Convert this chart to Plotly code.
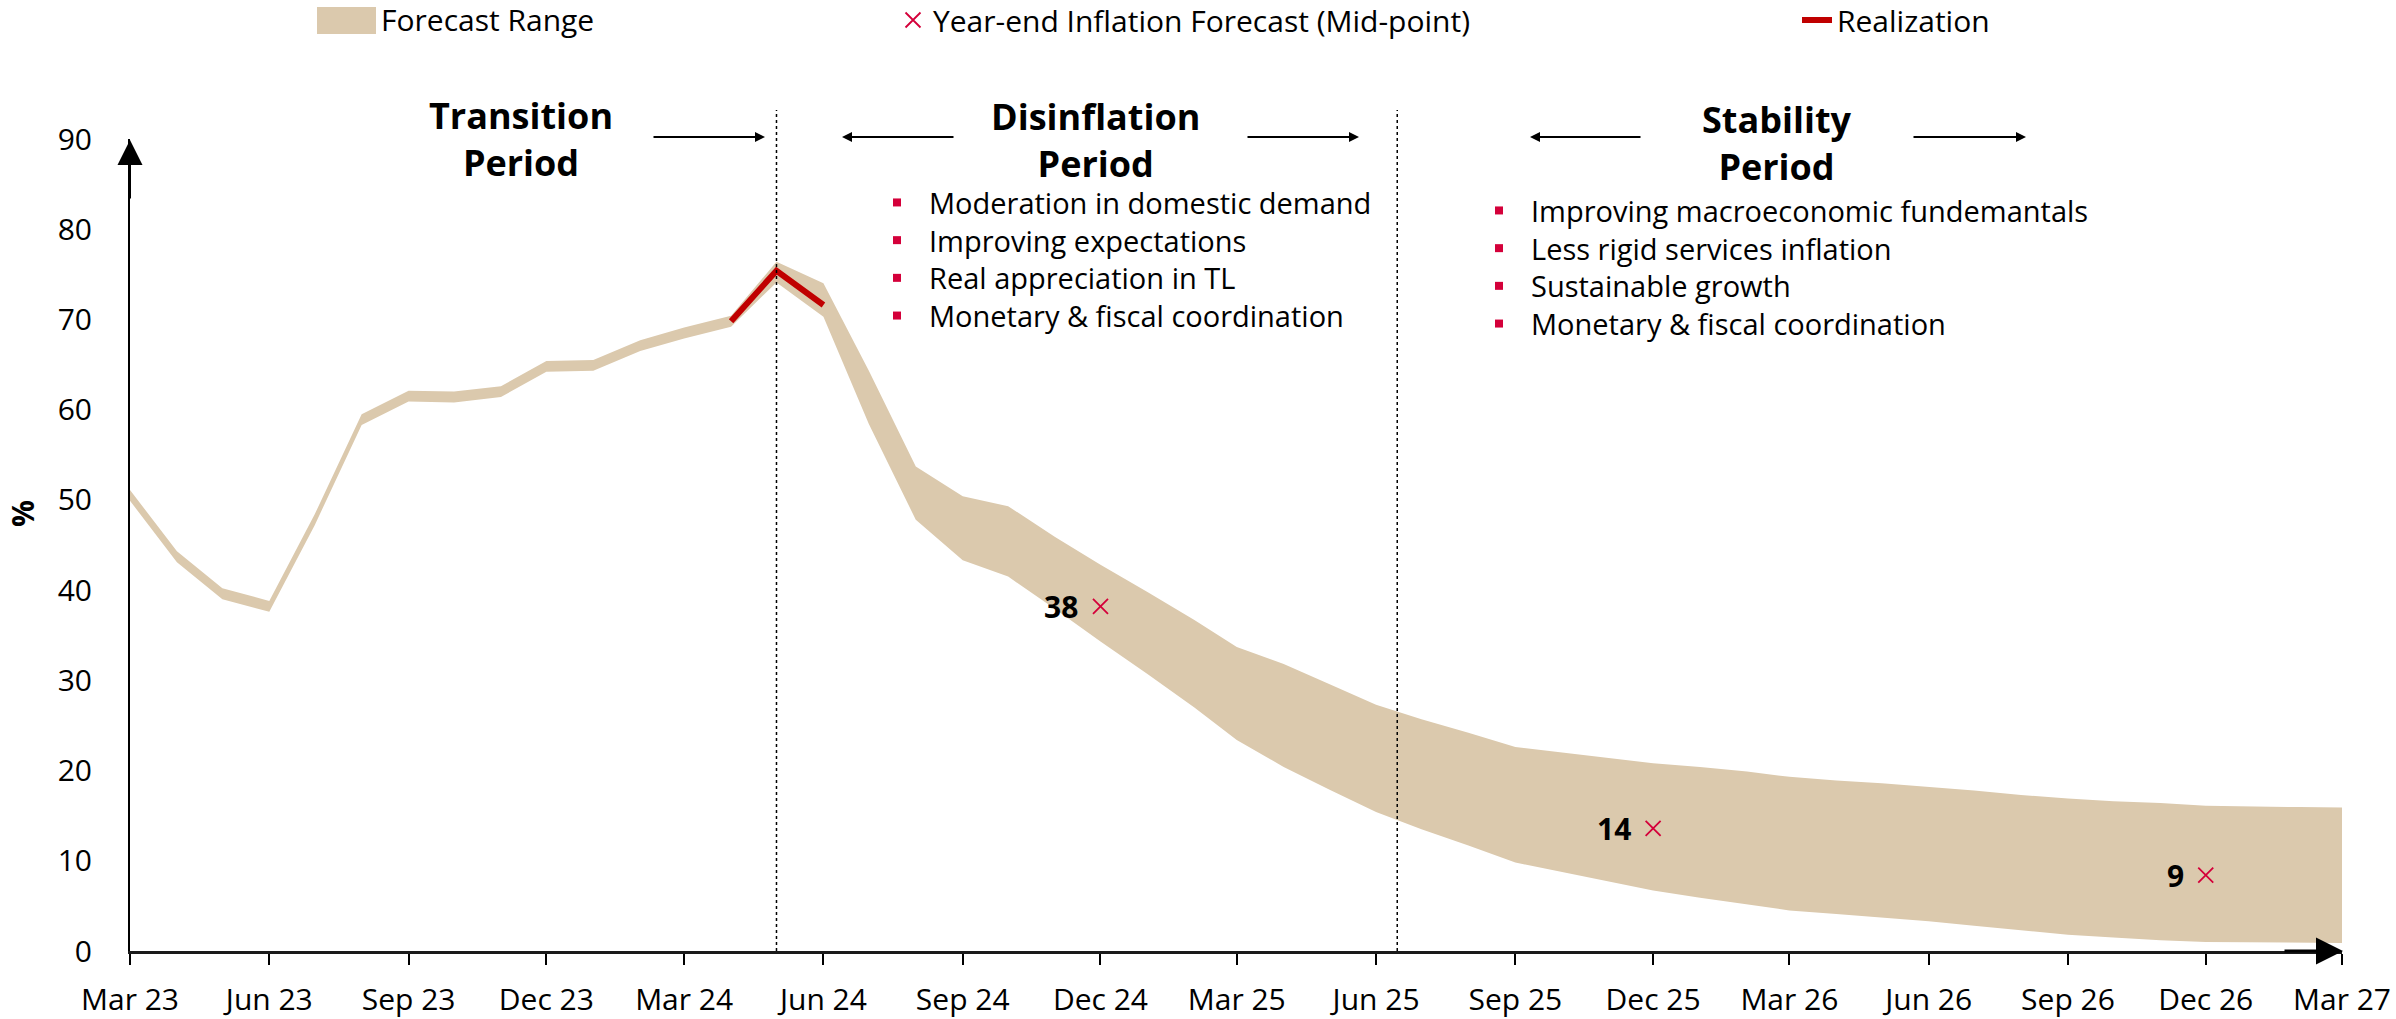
import pandas as pd
import plotly.graph_objects as go

# ---------------- data ----------------
months = pd.date_range("2023-03-01", periods=49, freq="MS")

band_lower = [49.9, 43.1, 39.0, 37.6, 47.2, 58.3, 60.9, 60.8, 61.4, 64.2, 64.3, 66.5, 67.9, 69.2,
              74.1, 70.3, 58.4, 47.8, 43.3, 41.5, 37.9, 34.3, 30.7, 27.0, 23.4, 20.4, 17.9, 15.4,
              13.5, 11.7, 9.8, 8.8, 7.7, 6.7, 5.9, 5.2, 4.5, 4.1, 3.7, 3.3, 2.8, 2.3, 1.8, 1.5,
              1.2, 1.0, 0.95, 0.9, 0.9]
band_upper = [51.1, 44.3, 40.2, 38.8, 48.4, 59.5, 62.1, 62.0, 62.6, 65.4, 65.5, 67.7, 69.1, 70.4,
              76.4, 74.0, 64.3, 53.7, 50.4, 49.3, 45.9, 42.8, 39.8, 36.7, 33.7, 31.8, 29.6, 27.3,
              25.7, 24.2, 22.6, 22.0, 21.4, 20.8, 20.4, 19.9, 19.3, 18.9, 18.6, 18.2, 17.8, 17.3,
              16.9, 16.6, 16.4, 16.1, 16.0, 15.95, 15.9]

real_dates = ["2024-04-01", "2024-05-01", "2024-06-01"]
real_values = [69.8, 75.4, 71.6]

mid_dates = ["2024-12-01", "2025-12-01", "2026-12-01"]
mid_values = [38.2, 13.6, 8.4]
mid_labels = ["38", "14", "9"]

tick_dates = months[::3]
tick_labels = ["Mar 23", "Jun 23", "Sep 23", "Dec 23", "Mar 24", "Jun 24", "Sep 24", "Dec 24",
               "Mar 25", "Jun 25", "Sep 25", "Dec 25", "Mar 26", "Jun 26", "Sep 26", "Dec 26",
               "Mar 27"]

period_bounds = ["2024-05-01", "2025-06-15"]

disinflation_items = ["Moderation in domestic demand", "Improving expectations",
                      "Real appreciation in TL", "Monetary & fiscal coordination"]
stability_items = ["Improving macroeconomic fundemantals", "Less rigid services inflation",
                   "Sustainable growth", "Monetary & fiscal coordination"]

# ---------------- style ----------------
W, H = 2396, 1019
L, R, T, B = 130, 54, 139, 68
PW, PH = W - L - R, H - T - B
FONT = "Open Sans"
TAN = "#DBC9AD"
RED = "#C00000"
CRIMSON = "#D4003A"
LEG_Y = 20


def px(X):
    return (X - L) / PW


def py(Y):
    return (H - B - Y) / PH


fig = go.Figure()

fig.add_trace(go.Scatter(x=months, y=band_lower, mode="lines", line=dict(width=0, color=TAN),
                         showlegend=False, hoverinfo="skip"))
fig.add_trace(go.Scatter(x=months, y=band_upper, mode="lines", line=dict(width=0, color=TAN),
                         fill="tonexty", fillcolor=TAN, name="Forecast Range", showlegend=False))
fig.add_trace(go.Scatter(x=mid_dates, y=mid_values, mode="markers",
                         marker=dict(symbol="x-thin", size=15, line=dict(width=1.8, color=CRIMSON),
                                     color=CRIMSON),
                         name="Year-end Inflation Forecast (Mid-point)", legend="legend2"))
fig.add_trace(go.Scatter(x=real_dates, y=real_values, mode="lines",
                         line=dict(width=6, color=RED), name="Realization", legend="legend3"))

annotations = []
shapes = []

# legend entry for the band (wide swatch as in the reference)
shapes.append(dict(type="rect", xref="paper", yref="paper", x0=px(317), x1=px(376),
                   y0=py(LEG_Y + 14), y1=py(LEG_Y - 13), fillcolor=TAN, line=dict(width=0)))
annotations.append(dict(x=px(379), y=py(LEG_Y), xref="paper", yref="paper", text="Forecast Range",
                        showarrow=False, xanchor="left", yanchor="middle",
                        font=dict(family=FONT, size=30, color="black")))

# value labels
for d, v, t in zip(mid_dates, mid_values, mid_labels):
    annotations.append(dict(x=d, y=v, xref="x", yref="y", text="<b>%s</b>" % t, showarrow=False,
                            xanchor="right", yanchor="middle", xshift=-20,
                            font=dict(family=FONT, size=30, color="black")))

# period titles
for cx, cy, txt in [(521, 139, "Transition<br>Period"),
                    (1095, 140, "Disinflation<br>Period"),
                    (1777, 143, "Stability<br>Period")]:
    annotations.append(dict(x=px(cx), y=py(cy), xref="paper", yref="paper",
                            text="<b>%s</b>" % txt, showarrow=False, xanchor="center",
                            yanchor="middle", align="center",
                            font=dict(family=FONT, size=36, color="black")))

# period arrows (tip, tail)
for tip, tail in [(765, 652), (842, 955), (1359, 1246), (1530, 1642), (2026, 1912)]:
    annotations.append(dict(x=px(tip), y=py(137), xref="paper", yref="paper", text="",
                            showarrow=True, ax=tail - tip, ay=0, arrowhead=2, arrowsize=1.0,
                            arrowwidth=2, arrowcolor="black"))

# axis arrows
annotations.append(dict(x=px(130), y=py(140), xref="paper", yref="paper", text="", showarrow=True,
                        ax=0, ay=60, arrowhead=2, arrowsize=2.5, arrowwidth=2, arrowcolor="black"))
annotations.append(dict(x=px(2343), y=py(951), xref="paper", yref="paper", text="", showarrow=True,
                        ax=-60, ay=0, arrowhead=2, arrowsize=1.8, arrowwidth=3, arrowcolor="black"))

# bullet lists
LS = 29 * 1.3
for bx, tx, cy, items in [(897, 927, 259, disinflation_items),
                          (1499, 1529, 267, stability_items)]:
    n = len(items)
    for i in range(n):
        ry = cy + (i - (n - 1) / 2) * LS
        shapes.append(dict(type="rect", xref="paper", yref="paper", xsizemode="pixel",
                           ysizemode="pixel", xanchor=px(bx), yanchor=py(ry), x0=-4, x1=4,
                           y0=-4, y1=4, fillcolor=CRIMSON, line=dict(width=0)))
    annotations.append(dict(x=px(tx), y=py(cy), xref="paper", yref="paper",
                            text="<br>".join(items), align="left",
                            showarrow=False, xanchor="left", yanchor="middle",
                            font=dict(family=FONT, size=29, color="black")))

# y-axis title
annotations.append(dict(x=px(22), y=py(514), xref="paper", yref="paper", text="<b>%</b>",
                        showarrow=False, textangle=-90, xanchor="center", yanchor="middle",
                        font=dict(family=FONT, size=30, color="black")))

# period boundaries
for d in period_bounds:
    shapes.append(dict(type="line", xref="x", yref="paper", x0=d, x1=d, y0=0, y1=py(110),
                       line=dict(color="black", width=1.5, dash="dot")))

legend_common = dict(orientation="h", yanchor="middle", y=py(LEG_Y), xanchor="left",
                     bgcolor="rgba(0,0,0,0)", font=dict(family=FONT, size=30, color="black"),
                     itemwidth=30)

fig.update_layout(
    width=W, height=H,
    margin=dict(l=L, r=R, t=T, b=B, autoexpand=False),
    paper_bgcolor="white", plot_bgcolor="white",
    font=dict(family=FONT, size=30, color="black"),
    legend2=dict(x=px(893), **legend_common),
    legend3=dict(x=px(1797), **legend_common),
    xaxis=dict(type="date", range=[months[0], months[-1]], tickvals=list(tick_dates),
               ticktext=tick_labels, ticks="outside", ticklen=11, tickwidth=2, tickcolor="black",
               showline=True, linewidth=3, linecolor="#1a1a1a", showgrid=False, zeroline=False,
               tickfont=dict(family=FONT, size=30, color="black"), ticklabelstandoff=9,
               automargin=False),
    yaxis=dict(range=[0, 90], dtick=10, tick0=0, showline=True, linewidth=2, linecolor="black",
               showgrid=False, zeroline=False, ticks="",
               tickfont=dict(family=FONT, size=30, color="black"), ticklabelstandoff=30,
               automargin=False),
    annotations=annotations,
    shapes=shapes,
    hovermode=False,
)

fig.write_html("out.html", config={"displayModeBar": False},
               post_script="document.body.style.margin='0';document.body.style.overflow='hidden';")
